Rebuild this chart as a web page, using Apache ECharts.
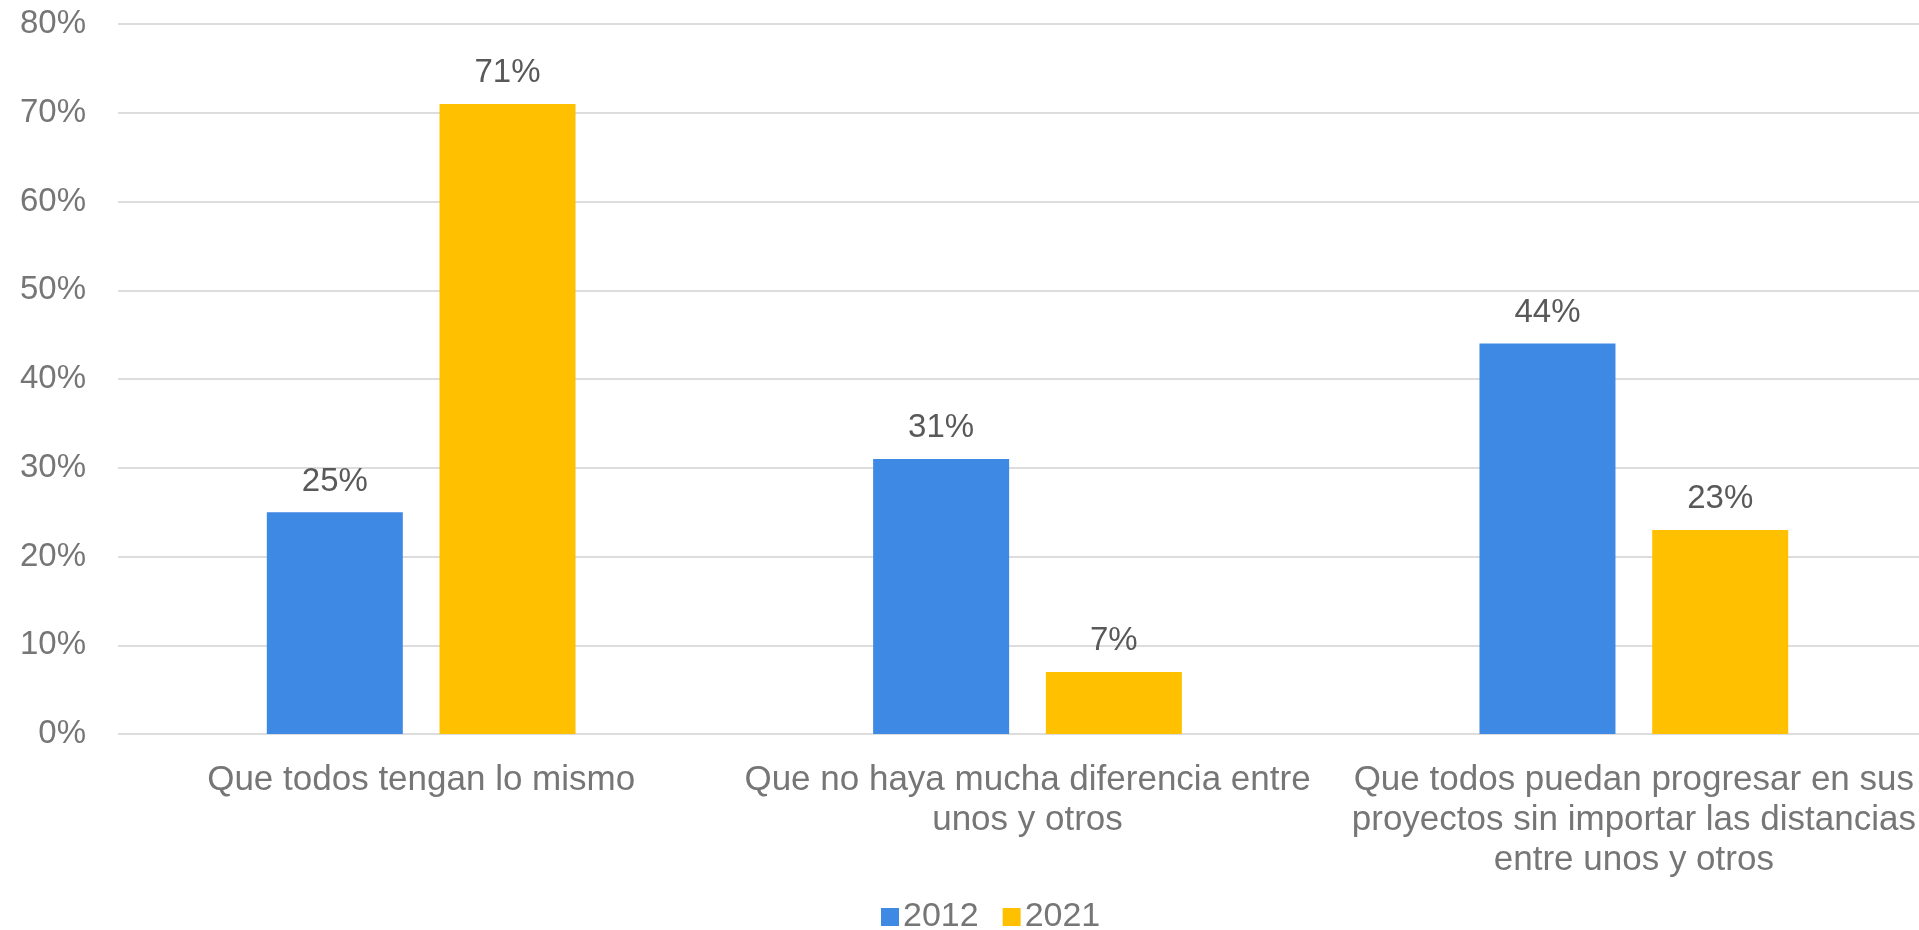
<!DOCTYPE html>
<html>
<head>
<meta charset="utf-8">
<script src="https://cdn.jsdelivr.net/npm/echarts@6/dist/echarts.min.js"></script>
<style>
html,body{margin:0;padding:0;background:#fff;overflow:hidden;}
#wrap{width:1919px;height:930px;overflow:hidden;}
#chart{width:1940px;height:930px;}
</style>
</head>
<body>
<div id="wrap"><div id="chart"></div></div>
<script>
var categories = [
  'Que todos tengan lo mismo',
  'Que no haya mucha diferencia entre\nunos y otros',
  'Que todos puedan progresar en sus\nproyectos sin importar las distancias\nentre unos y otros'
];
var seriesNames = ['2012', '2021'];
var values2012 = [25, 31, 44];
var values2021 = [71, 7, 23];
var yTicks = [0, 10, 20, 30, 40, 50, 60, 70, 80];

var FONT = '"Liberation Sans", Arial, sans-serif';
var chart = echarts.init(document.getElementById('chart'));
chart.setOption({
  backgroundColor: '#ffffff',
  animation: false,
  textStyle: { fontFamily: FONT },
  legend: {
    data: seriesNames,
    top: 895,
    left: 876,
    icon: 'rect',
    itemWidth: 18,
    itemHeight: 18,
    itemGap: 24,
    textStyle: { fontSize: 34, color: '#767676', fontFamily: FONT, padding: [0, 0, 0, -1] }
  },
  grid: [
    { left: 118, width: 1819, top: 24, bottom: 196, containLabel: false },
    { left: 118, right: 21, top: 24, bottom: 196, containLabel: false }
  ],
  xAxis: [
    {
      type: 'category', gridIndex: 0, data: categories,
      axisLine: { show: false }, axisTick: { show: false },
      axisLabel: { fontSize: 35, color: '#767676', lineHeight: 40, margin: 26, interval: 0, fontFamily: FONT, align: 'center' }
    },
    { type: 'value', gridIndex: 1, min: 0, max: 1, show: false }
  ],
  yAxis: [
    { type: 'value', gridIndex: 0, min: yTicks[0], max: yTicks[yTicks.length - 1], interval: 10, show: false },
    {
      type: 'value', gridIndex: 1, min: yTicks[0], max: yTicks[yTicks.length - 1], interval: 10,
      axisLine: { show: false }, axisTick: { show: false },
      axisLabel: { fontSize: 33, color: '#767676', margin: 32, formatter: '{value}%', fontFamily: FONT },
      splitLine: { show: true, lineStyle: { color: '#dddddd', width: 2 } }
    }
  ],
  series: [
    {
      name: seriesNames[0], type: 'bar', xAxisIndex: 0, yAxisIndex: 0,
      data: values2012, barWidth: 136, barGap: '27%',
      itemStyle: { color: '#3E89E4' },
      label: { show: true, position: 'top', distance: 14, formatter: '{c}%', fontSize: 33, color: '#595959', fontFamily: FONT }
    },
    {
      name: seriesNames[1], type: 'bar', xAxisIndex: 0, yAxisIndex: 0,
      data: values2021, barWidth: 136, barGap: '27%',
      itemStyle: { color: '#FFC000' },
      label: { show: true, position: 'top', distance: 14, formatter: '{c}%', fontSize: 33, color: '#595959', fontFamily: FONT }
    },
    { type: 'line', xAxisIndex: 1, yAxisIndex: 1, data: [], silent: true }
  ]
});
</script>
</body>
</html>
